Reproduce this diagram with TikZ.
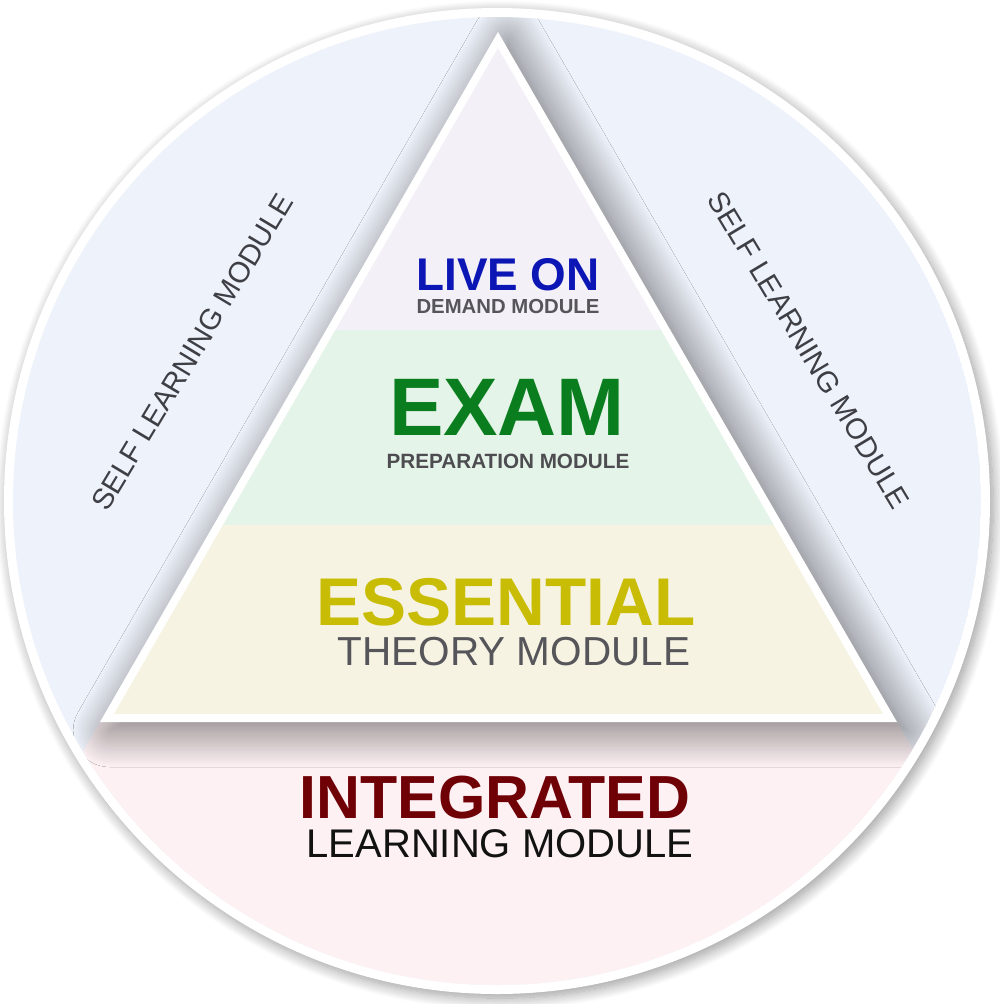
\documentclass[tikz,border=0pt]{standalone}
\usepackage{xcolor}
\usepackage{fontspec}
\setmainfont{Liberation Sans}
\usetikzlibrary{shadows.blur}

\definecolor{ringblue}{HTML}{EEF2FA}
\definecolor{ringpink}{HTML}{FDF1F4}
\definecolor{bandlive}{HTML}{F3F0F8}
\definecolor{bandexam}{HTML}{E5F4E8}
\definecolor{bandess}{HTML}{F6F3E2}
\definecolor{liveblue}{HTML}{0C16B4}
\definecolor{examgreen}{HTML}{0A7D1F}
\definecolor{essyellow}{HTML}{C9BC05}
\definecolor{intred}{HTML}{6E0006}
\definecolor{subgrey}{HTML}{55555A}
\definecolor{selfgrey}{HTML}{3E3F44}

\begin{document}
\begin{tikzpicture}[x=0.6pt,y=-0.6pt,
    word/.style={anchor=base,inner sep=0pt},
    selfword/.style={inner sep=0pt,text=selfgrey,font=\fontsize{17.5}{18}\selectfont}]
			\useasboundingbox (0,0) rectangle (1000,1004);
			\coordinate (O) at (497,501);
			\coordinate (A) at (498,32);
			\coordinate (B) at (100,722);
			\coordinate (C) at (897,722);
			\coordinate (a) at (498,48);
			\coordinate (b) at (114,714);
			\coordinate (c) at (883,714);
			% ring
			\fill[white,blur shadow={shadow xshift=2pt,shadow yshift=-2.5pt,
			  shadow blur radius=7pt,shadow blur steps=16,shadow opacity=40}] (O) circle[radius=493];
			\begin{scope}
				\clip (O) circle[radius=484];
				\fill[ringblue] (O) circle[radius=484];
				\fill[ringpink] (B) -- (C) -- (1197,1242) -- (-200,1242) -- cycle;
				\fill[white,blur shadow={shadow xshift=6pt,shadow yshift=-5pt,
				  shadow blur radius=22pt,shadow blur steps=30,shadow opacity=55}] (A) -- (B) -- (C) -- cycle;
			\end{scope}
			% bands
			\begin{scope}
				\clip (a) -- (b) -- (c) -- cycle;
				\fill[bandlive] (0,0) rectangle (1000,330);
				\fill[bandexam] (0,330) rectangle (1000,525);
				\fill[bandess] (0,525) rectangle (1000,714);
			\end{scope}
			% labels
			\node[word,text=liveblue,font=\fontsize{27.5}{28}\selectfont\bfseries] (live) at (508,290) {LIVE ON};
			\node[word,text=subgrey,font=\fontsize{12.2}{13}\selectfont\bfseries] (demand) at (508,313) {DEMAND MODULE};
			\node[word,text=examgreen,font=\fontsize{49}{49}\selectfont\bfseries] (exam) at (507,435) {EXAM};
			\node[word,text=subgrey!90!black,font=\fontsize{12.4}{13}\selectfont\bfseries] (prep) at (508,468) {PREPARATION MODULE};
			\node[word,text=essyellow,font=\fontsize{40.5}{41}\selectfont\bfseries] (ess) at (506,625) {ESSENTIAL};
			\node[word,text=subgrey,font=\fontsize{24.3}{25}\selectfont] (theory) at (514,665) {THEORY MODULE};
			\node[word,text=intred,font=\fontsize{36.5}{37}\selectfont\bfseries] (integ) at (495,818) {INTEGRATED};
			\node[word,text=black!93,font=\fontsize{24}{25}\selectfont] (learn) at (500,857) {LEARNING MODULE};
			\node[selfword,rotate=59] (selfL) at (192,352) {SELF LEARNING MODULE};
			\node[selfword,rotate=-59] (selfR) at (809,350) {SELF LEARNING MODULE};
		\end{tikzpicture}
\end{document}
